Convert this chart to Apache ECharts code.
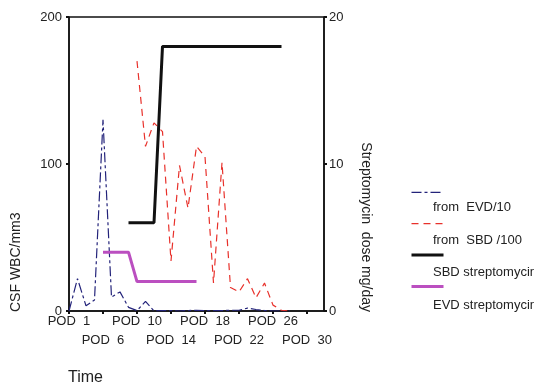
<!DOCTYPE html>
<html><head><meta charset="utf-8">
<script src="https://cdn.jsdelivr.net/npm/echarts@6/dist/echarts.min.js"></script>
<style>html,body{margin:0;padding:0;background:#fff}#c{width:534px;height:385px}</style>
</head><body><div id="c"></div>
<script>
// Categories (post-operative days)
const days = ['POD  1','POD  2','POD  3','POD  4','POD  6','POD  7','POD  8','POD  9','POD  10','POD  11',
  'POD  12','POD  13','POD  14','POD  15','POD  16','POD  17','POD  18','POD  19','POD  20','POD  21',
  'POD  22','POD  23','POD  24','POD  25','POD  26','POD  27','POD  28','POD  29','POD  30','POD  31','POD  32'];
// Series names (as shown in legend)
const seriesNames = ['from  EVD/10', 'from  SBD /100', 'SBD streptomycin', 'EVD streptomycin'];
// CSF WBC (left axis)
const wbcEVD = [0, 22, 3.5, 7.5, 130, 9.5, 13, 2.5, 0.3, 6.5, 0, 0.3, 0.3, 0, 0.3, 0.5, 0.3, 0.3, 0.3, 0.5,
  0.5, 2, 1, 0.3, 0, 0, 0, null, null, null, null];
const wbcSBD = [null, null, null, null, null, null, null, null, 170, 112, 128, 122, 34, 99, 70, 112, 105, 19, 101, 16,
  13, 22, 9, 19, 4, 0.5, 0, null, null, null, null];
// Streptomycin dose mg/day (right axis)
const doseSBD = [null, null, null, null, null, null, null, 6, 6, 6, 6, 18, 18, 18, 18, 18, 18, 18, 18, 18,
  18, 18, 18, 18, 18, 18, null, null, null, null, null];
const doseEVD = [null, null, null, null, 4, 4, 4, 4, 2, 2, 2, 2, 2, 2, 2, 2, null, null, null, null,
  null, null, null, null, null, null, null, null, null, null, null];
const leftTicks = [0, 100, 200];
const rightTicks = [0, 10, 20];

const FONT = '"Liberation Sans", Arial, sans-serif';
const chart = echarts.init(document.getElementById('c'), null, {renderer: 'canvas'});
const legendTop = 180.3, legendGap = 32.8;
const labelStyle = {margin: 4, fontSize: 13, color: '#222', fontFamily: FONT};
const lineStyles = [
  {color: '#23237a', width: 1.2, type: [10, 3, 3, 3]},
  {color: '#e8312b', width: 1.2, type: [7, 5]},
  {color: '#111', width: 3},
  {color: '#bb4fc0', width: 3}
];
const option = {
  animation: false,
  backgroundColor: '#fff',
  textStyle: {fontFamily: FONT},
  grid: {left: 69, right: 210, top: 17, bottom: 74, show: true, borderColor: '#111', borderWidth: 1.5, backgroundColor: 'transparent'},
  xAxis: [{
    type: 'category', data: days, boundaryGap: false, position: 'bottom',
    axisLine: {lineStyle: {color: '#111', width: 1.5}},
    axisTick: {interval: 3, length: 3, lineStyle: {color: '#111', width: 2}},
    axisLabel: Object.assign({interval: (i) => i % 8 === 0}, labelStyle),
    splitLine: {show: false}
  }, {
    type: 'category', data: days, boundaryGap: false, position: 'bottom', offset: 19,
    axisLine: {show: false}, axisTick: {show: false},
    axisLabel: Object.assign({interval: (i) => i % 8 === 4}, labelStyle),
    splitLine: {show: false}
  }],
  yAxis: [{
    type: 'value', min: leftTicks[0], max: leftTicks[2], interval: leftTicks[1] - leftTicks[0],
    axisLine: {show: true, lineStyle: {color: '#111', width: 1.5}},
    axisTick: {show: true, length: 3, lineStyle: {color: '#111', width: 2}},
    axisLabel: {margin: 7, fontSize: 13, color: '#222', fontFamily: FONT},
    splitLine: {show: false}
  }, {
    type: 'value', min: rightTicks[0], max: rightTicks[2], interval: rightTicks[1] - rightTicks[0], position: 'right',
    axisLine: {show: true, lineStyle: {color: '#111', width: 1.5}},
    axisTick: {show: true, length: 3, lineStyle: {color: '#111', width: 2}},
    axisLabel: {margin: 5, fontSize: 13, color: '#222', fontFamily: FONT},
    splitLine: {show: false}
  }],
  legend: {
    orient: 'vertical', left: 405, top: legendTop, itemWidth: 32, itemHeight: 14, itemGap: legendGap - 14,
    data: seriesNames.map((n, i) => ({name: n, lineStyle: Object.assign({}, lineStyles[i])})),
    formatter: () => '', selectedMode: false,
    itemStyle: {opacity: 0}
  },
  series: [
    {name: seriesNames[0], type: 'line', data: wbcEVD, yAxisIndex: 0, symbol: 'none', connectNulls: false,
      lineStyle: lineStyles[0], itemStyle: {color: lineStyles[0].color}, z: 3},
    {name: seriesNames[1], type: 'line', data: wbcSBD, yAxisIndex: 0, symbol: 'none',
      lineStyle: lineStyles[1], itemStyle: {color: lineStyles[1].color}, z: 3},
    {name: seriesNames[2], type: 'line', data: doseSBD, yAxisIndex: 1, symbol: 'none',
      lineStyle: lineStyles[2], itemStyle: {color: lineStyles[2].color}, z: 4},
    {name: seriesNames[3], type: 'line', data: doseEVD, yAxisIndex: 1, symbol: 'none',
      lineStyle: lineStyles[3], itemStyle: {color: lineStyles[3].color}, z: 4}
  ],
  graphic: [
    {type: 'text', x: 16.5, y: 312, rotation: Math.PI / 2,
      style: {text: 'CSF WBC/mm3', font: '14px ' + FONT, fill: '#222', align: 'left', verticalAlign: 'middle'}},
    {type: 'text', x: 366, y: 312, rotation: -Math.PI / 2,
      style: {text: 'Streptomycin  dose mg/day', font: '14px ' + FONT, fill: '#222', align: 'right', verticalAlign: 'middle'}},
    {type: 'text', x: 68, y: 378,
      style: {text: 'Time', font: '16px ' + FONT, fill: '#222', align: 'left', verticalAlign: 'middle'}}
  ].concat(seriesNames.map((n, i) => ({
    type: 'text', x: 433, y: legendTop + 7 + i * legendGap + 20,
    style: {text: n, font: '13px ' + FONT, fill: '#222', align: 'left', verticalAlign: 'middle'}
  })))
};
chart.setOption(option);
</script>
</body></html>
